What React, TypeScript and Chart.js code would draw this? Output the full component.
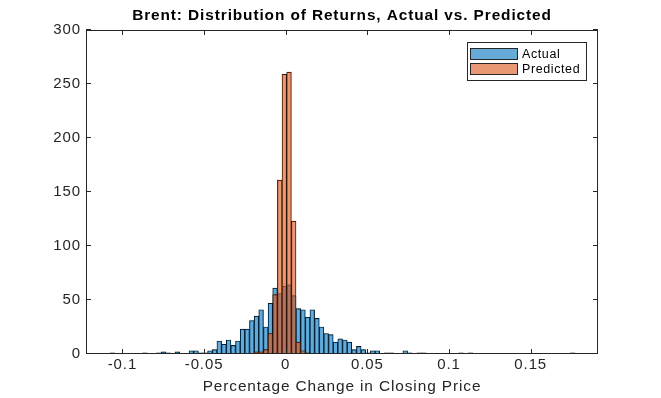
import React, { useEffect, useRef } from "react";
import { Chart, registerables } from "chart.js";

Chart.register(...registerables);

const TITLE = "Brent: Distribution of Returns, Actual vs. Predicted";
const X_LABEL = "Percentage Change in Closing Price";
const SERIES_NAMES = ["Actual", "Predicted"];

// histogram bins: 100 bins of equal width starting at BIN_START
const BIN_START = -0.1076;
const BIN_WIDTH = 0.002847;

const ACTUAL_COUNTS = [
  1, 0, 0, 0, 0, 0, 0, 1, 0, 0,
  1, 2, 1, 0, 2, 0, 0, 3, 3, 1,
  1, 3, 4, 12, 9, 13, 8, 12, 23, 23,
  31, 35, 41, 25, 47, 61, 56, 63,
  64, 54, 42, 41, 34, 41, 33, 25, 19, 18,
  11, 14, 13, 11, 4, 7, 4, 1, 3, 3,
  0, 1, 1, 0, 0, 3, 1, 0, 1, 1,
  0, 0, 0, 0, 0, 0, 0, 1, 0, 1,
  0, 0, 0, 0, 0, 0, 0, 0, 0, 0,
  0, 0, 0, 0, 0, 0, 0, 0, 0, 0,
  0, 1,
];

const PREDICTED_COUNTS = [
  0, 0, 0, 0, 0, 0, 0, 0, 0, 0,
  0, 0, 0, 0, 0, 0, 0, 0, 0, 0,
  0, 0, 0, 0, 0, 0, 0, 0, 0, 0,
  0, 2, 2, 4, 19, 55, 161, 259,
  261, 123, 11, 3, 1, 0, 0, 0, 0, 0,
  0, 0, 0, 0, 0, 0, 0, 0, 0, 0,
  0, 0, 0, 0, 0, 0, 0, 0, 0, 0,
  0, 0, 0, 0, 0, 0, 0, 0, 0, 0,
  0, 0, 0, 0, 0, 0, 0, 0, 0, 0,
  0, 0, 0, 0, 0, 0, 0, 0, 0, 0,
  0, 0,
];

const X_MIN = -0.1223;
const X_MAX = 0.1912;
const X_TICKS = [-0.1, -0.05, 0, 0.05, 0.1, 0.15];
const X_TICK_LABELS = ["-0.1", "-0.05", "0", "0.05", "0.1", "0.15"];
const Y_MIN = 0;
const Y_MAX = 300;
const Y_TICKS = [0, 50, 100, 150, 200, 250, 300];

const COLORS = ["rgba(0,114,189,0.6)", "rgba(217,83,25,0.6)"];
const AXIS_COLOR = "#262626";
const FONT_FAMILY = "'Liberation Sans', Arial, Helvetica, sans-serif";

const toPoints = (counts: number[]) =>
  counts.map((c, i) => ({ x: BIN_START + (i + 0.5) * BIN_WIDTH, y: c }));

const framePlugin = {
  id: "matlabFrame",
  beforeDraw(chart: any) {
    chart.ctx.letterSpacing = "0.9px";
  },
  afterDraw(chart: any) {
    const { ctx, chartArea: a, scales } = chart;
    const xs = scales.x;
    const ys = scales.y;
    ctx.save();
    ctx.strokeStyle = AXIS_COLOR;
    ctx.lineWidth = 1;
    ctx.strokeRect(a.left + 0.5, a.top + 0.5, a.right - a.left - 1, a.bottom - a.top - 1);
    const tl = 5;
    ctx.beginPath();
    X_TICKS.forEach((v) => {
      const px = Math.round(xs.getPixelForValue(v)) + 0.5;
      ctx.moveTo(px, a.bottom);
      ctx.lineTo(px, a.bottom - tl);
      ctx.moveTo(px, a.top);
      ctx.lineTo(px, a.top + tl);
    });
    Y_TICKS.forEach((v) => {
      const py = Math.round(ys.getPixelForValue(v)) - 0.5;
      ctx.moveTo(a.left, py);
      ctx.lineTo(a.left + tl, py);
      ctx.moveTo(a.right, py);
      ctx.lineTo(a.right - tl, py);
    });
    ctx.stroke();

    const cx = (a.left + a.right) / 2;
    ctx.fillStyle = "#000";
    ctx.textAlign = "center";
    ctx.textBaseline = "middle";
    ctx.letterSpacing = "0.9px";
    ctx.font = `bold 15.4px ${FONT_FAMILY}`;
    ctx.fillText(TITLE, cx, 16);
    ctx.fillStyle = AXIS_COLOR;
    ctx.font = `15.4px ${FONT_FAMILY}`;
    ctx.fillText(X_LABEL, cx, 387);

    // legend
    const lw = 119;
    const lh = 38;
    const lx = a.right - 12 - lw;
    const ly = a.top + 12;
    ctx.fillStyle = "#fff";
    ctx.fillRect(lx + 0.5, ly + 0.5, lw, lh);
    ctx.strokeStyle = AXIS_COLOR;
    ctx.strokeRect(lx + 0.5, ly + 0.5, lw, lh);
    ctx.font = `12.5px ${FONT_FAMILY}`;
    ctx.letterSpacing = "0.6px";
    ctx.textAlign = "left";
    SERIES_NAMES.forEach((name, i) => {
      const sy = ly + 6 + i * 15;
      ctx.fillStyle = COLORS[i];
      ctx.fillRect(lx + 3.5, sy + 0.5, 47, 11);
      ctx.strokeStyle = AXIS_COLOR;
      ctx.strokeRect(lx + 3.5, sy + 0.5, 47, 11);
      ctx.fillStyle = "#000";
      ctx.fillText(name, lx + 55, sy + 6.5);
    });
    ctx.restore();
  },
};

export default function App() {
  const ref = useRef<HTMLCanvasElement | null>(null);
  useEffect(() => {
    if (!ref.current) return;
    const chart = new Chart(ref.current, {
      type: "bar",
      data: {
        datasets: [
          {
            label: SERIES_NAMES[0],
            data: toPoints(ACTUAL_COUNTS),
            backgroundColor: COLORS[0],
            borderColor: "#000",
            borderWidth: 0.5,
            borderSkipped: false,
            order: 2,
          },
          {
            label: SERIES_NAMES[1],
            data: toPoints(PREDICTED_COUNTS),
            backgroundColor: COLORS[1],
            borderColor: "#000",
            borderWidth: 0.5,
            borderSkipped: false,
            order: 1,
          },
        ] as any,
      },
      options: {
        responsive: false,
        animation: false,
        datasets: {
          bar: { grouped: false, barPercentage: 1, categoryPercentage: 1 },
        } as any,
        layout: { padding: { top: 30, right: 63, left: 0, bottom: 0 } },
        plugins: {
          legend: { display: false },
          title: { display: false },
          tooltip: { enabled: false },
        },
        scales: {
          x: {
            type: "linear",
            min: X_MIN,
            max: X_MAX,
            offset: false,
            grid: { display: false, drawTicks: false },
            border: { display: false },
            afterBuildTicks: (s: any) => {
              s.ticks = X_TICKS.map((v) => ({ value: v }));
            },
            afterFit: (s: any) => {
              s.height = 44;
            },
            ticks: {
              autoSkip: false,
              maxRotation: 0,
              padding: 2,
              color: AXIS_COLOR,
              font: { family: FONT_FAMILY, size: 15 },
              callback: (_v: any, i: number) => X_TICK_LABELS[i],
            },
          },
          y: {
            type: "linear",
            min: Y_MIN,
            max: Y_MAX,
            grid: { display: false, drawTicks: false },
            border: { display: false },
            afterBuildTicks: (s: any) => {
              s.ticks = Y_TICKS.map((v) => ({ value: v }));
            },
            afterFit: (s: any) => {
              s.width = 86;
            },
            ticks: {
              padding: 5,
              color: AXIS_COLOR,
              font: { family: FONT_FAMILY, size: 15 },
              callback: (v: any) => String(v),
            },
          },
        } as any,
      },
      plugins: [framePlugin],
    });
    return () => chart.destroy();
  }, []);
  return (
    <div style={{ position: "absolute", left: 0, top: 0, width: 661, height: 398, background: "#fff" }}>
      <canvas ref={ref} width={661} height={398} style={{ display: "block" }} />
    </div>
  );
}
